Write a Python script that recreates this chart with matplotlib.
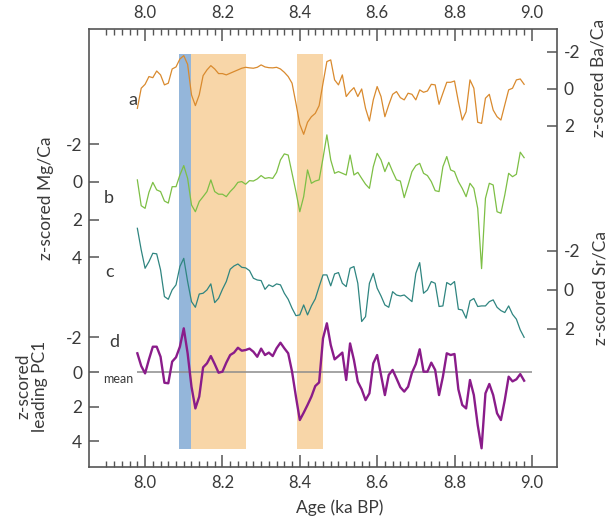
import matplotlib
matplotlib.use("Agg")
import matplotlib.pyplot as plt
import numpy as np
from matplotlib.ticker import FixedLocator, FormatStrFormatter

plt.rcParams['font.family'] = ['Lato', 'DejaVu Sans']
plt.rcParams['axes.unicode_minus'] = False

# ages (ka BP) shared by the four records
age = [7.98, 7.99, 8.00, 8.01, 8.02, 8.03, 8.04, 8.05, 8.06, 8.07,
       8.08, 8.09, 8.10, 8.11, 8.12, 8.13, 8.14, 8.15, 8.16, 8.17,
       8.18, 8.19, 8.20, 8.21, 8.22, 8.23, 8.24, 8.25, 8.26, 8.27,
       8.28, 8.29, 8.30, 8.31, 8.32, 8.33, 8.34, 8.35, 8.36, 8.37,
       8.38, 8.39, 8.40, 8.41, 8.42, 8.43, 8.44, 8.45, 8.46, 8.47,
       8.48, 8.49, 8.50, 8.51, 8.52, 8.53, 8.54, 8.55, 8.56, 8.57,
       8.58, 8.59, 8.60, 8.61, 8.62, 8.63, 8.64, 8.65, 8.66, 8.67,
       8.68, 8.69, 8.70, 8.71, 8.72, 8.73, 8.74, 8.75, 8.76, 8.77,
       8.78, 8.79, 8.80, 8.81, 8.82, 8.83, 8.84, 8.85, 8.86, 8.87,
       8.88, 8.89, 8.90, 8.91, 8.92, 8.93, 8.94, 8.95, 8.96, 8.97, 8.98]

# a: z-scored Ba/Ca
ba_ca = [1.05, -0.04, -0.25, -0.67, -0.61, -0.97, -0.76, -0.22, -0.31, -1.08,
         -1.19, -1.62, -1.80, -1.33, 0.32, 0.90, 0.32, -0.72, -1.03, -1.26,
         -1.08, -0.83, -0.83, -0.76, -0.85, -0.94, -1.03, -1.12, -1.17, -1.14,
         -1.12, -1.17, -1.30, -1.19, -1.15, -1.14, -1.17, -1.08, -0.90, -0.67,
         -0.31, 0.77, 1.91, 2.45, 1.80, 1.50, 1.32, 0.90, -0.31, -1.48,
         -1.57, -0.49, -0.22, -0.76, 0.41, 0.14, -0.07, 0.41, 0.00, 1.05,
         1.73, 0.59, -0.13, 0.41, 1.50, 0.86, 0.29, 0.14, 0.47, 0.59,
         0.23, 0.29, 0.59, 0.05, 0.18, 0.11, -0.25, -0.22, 0.83, 0.23,
         -0.36, -0.36, -0.43, 0.68, 1.68, 1.23, -0.49, -0.04, 1.80, 1.86,
         0.50, 0.29, 1.14, 1.50, 1.68, 0.86, 0.05, -0.04, -0.49, -0.54, -0.25]

# b: z-scored Mg/Ca
mg_ca = [-0.11, 1.26, 1.40, 0.55, 0.02, 0.42, 0.51, 1.01, 1.12, 0.25,
         0.25, -0.37, -0.87, -0.19, 1.22, 1.58, 1.04, 0.78, 0.51, -0.11,
         0.51, 0.65, 0.65, 0.78, 0.51, 0.30, 0.02, -0.02, 0.12, -0.07,
         -0.05, -0.16, -0.34, -0.19, -0.23, -0.19, -0.51, -1.17, -1.49, -1.43,
         -0.46, 0.51, 1.58, 0.78, -0.64, 0.07, -0.05, -0.11, -1.26, -2.50,
         -1.17, -0.46, -0.55, -0.46, -0.37, -1.43, -0.37, -0.51, -0.19, 0.12,
         0.34, -0.81, -1.52, -1.17, -0.55, -1.04, -0.55, -0.11, -0.05, 0.83,
         0.16, -0.55, -0.87, -0.99, -0.46, -0.34, -0.02, 0.46, 0.51, -0.81,
         -1.35, -0.64, -0.55, -0.02, 0.34, 0.78, 0.07, 0.34, 1.40, 4.60,
         0.87, 0.07, 0.16, 1.58, 1.66, 0.69, -0.46, -0.28, -0.41, -1.58, -1.29]

# c: z-scored Sr/Ca
sr_ca = [-3.16, -2.05, -1.11, -1.45, -1.88, -1.85, -1.03, 0.34, 0.48, 0.00,
         -0.26, -1.20, -1.62, -0.43, 0.60, 0.89, 0.21, 0.17, 0.00, -0.31,
         0.65, 0.43, -0.03, -0.43, -1.06, -1.23, -1.33, -1.16, -1.13, -0.99,
         -0.60, -0.51, -0.48, -0.03, -0.26, -0.17, -0.31, -0.26, 0.17, 0.48,
         0.94, 1.32, 1.28, 0.77, 1.28, 0.82, 0.46, -0.17, -0.77, -0.77,
         -0.21, -0.82, -0.89, -0.34, -0.17, -1.11, -1.20, -0.34, 1.62, 1.37,
         -0.34, -0.85, -0.09, 0.31, 0.77, 0.89, 0.09, 0.26, 0.31, 0.26,
         0.43, 0.60, -0.85, -1.40, 0.17, 0.00, -0.43, -0.34, 0.85, 0.82,
         -0.38, -0.26, -0.43, 0.99, 1.03, 1.45, 0.56, 0.44, 0.85, 0.82,
         0.82, 0.60, 0.51, 0.89, 1.06, 1.16, 0.82, 1.25, 1.50, 2.05, 2.43]

# d: z-scored leading PC1
pc1 = [-1.08, -0.35, 0.08, -0.73, -1.46, -1.46, -0.88, 0.62, 0.65, -0.60,
       -0.85, -1.46, -2.52, -1.08, 0.85, 2.10, 1.42, -0.27, -0.50, -0.92,
       -0.46, 0.04, -0.02, -0.54, -0.98, -1.12, -1.40, -1.23, -1.27, -1.35,
       -1.17, -0.88, -1.35, -0.98, -1.12, -0.92, -1.37, -1.69, -1.37, -1.08,
       -0.02, 1.42, 2.77, 2.35, 1.90, 1.42, 0.81, 0.60, -1.94, -2.81,
       -1.56, -0.73, -0.92, -1.12, 0.46, -1.65, -0.69, 0.56, 1.00, 1.62,
       1.23, -0.50, -0.98, 0.17, 1.33, 0.17, -0.12, 0.37, 0.88, 1.13,
       0.85, 0.04, -0.46, -1.31, -0.02, -0.02, -0.54, -0.12, 1.33, 0.27,
       -1.08, -0.98, -1.04, 1.00, 1.90, 2.10, 0.46, 1.33, 3.06, 4.40,
       1.23, 0.69, 1.33, 2.38, 2.77, 1.62, 0.27, 0.54, 0.42, 0.12, 0.50]

# shaded intervals (ka BP)
blue_band = (8.088, 8.119)
orange_bands = [(8.119, 8.261), (8.393, 8.460)]

ink = '#3a3a3a'
fig = plt.figure(figsize=(6.11, 5.18), dpi=100)
rect = [89 / 611, 1 - 467 / 518, 468 / 611, 438 / 518]
ax = fig.add_axes(rect)
ax.set_xlim(7.855, 9.065)
ax.set_ylim(0, 1)
ax.set_yticks([])
for sp in ax.spines.values():
    sp.set_color('#555555')
    sp.set_linewidth(1.2)

ax.axvspan(*blue_band, ymin=0.041, ymax=0.943, color='#94b6da', lw=0)
for lo, hi in orange_bands:
    ax.axvspan(lo, hi, ymin=0.041, ymax=0.943, color='#f8d6a8', lw=0)

ax.xaxis.set_major_locator(FixedLocator(np.round(np.arange(8.0, 9.01, 0.2), 2)))
ax.xaxis.set_minor_locator(FixedLocator(np.round(np.arange(7.90, 8.99, 0.02), 2)))
ax.xaxis.set_major_formatter(FormatStrFormatter('%.1f'))
ax.tick_params(axis='x', which='both', direction='in', top=True, bottom=True,
               labeltop=True, labelbottom=True, colors='#555555',
               labelcolor=ink, labelsize=12)
ax.tick_params(axis='x', which='major', length=8.5, width=1.1, pad=6)
ax.tick_params(axis='x', which='minor', length=4.3, width=1.0)
ax.set_xlabel('Age (ka BP)', fontsize=12.5, color=ink, labelpad=1)
ax.xaxis.set_label_coords(0.536, -0.075)


def series_axis(ylim, ticks, side):
    s = ax.twinx()
    s.set_ylim(*ylim)
    for sp in s.spines.values():
        sp.set_visible(False)
    s.set_yticks(ticks)
    s.yaxis.set_major_formatter(FormatStrFormatter('%d'))
    if side == 'left':
        s.yaxis.tick_left()
    else:
        s.yaxis.tick_right()
    s.tick_params(axis='y', direction='in', length=7, width=1.1,
                  colors='#555555', labelcolor=ink, labelsize=12.5, pad=5)
    return s


ax_a = series_axis((20.43, -3.24), [-2, 0, 2], 'right')
ax_b = series_axis((15.13, -8.12), [-2, 0, 2, 4], 'left')
ax_c = series_axis((9.08, -13.38), [-2, 0, 2], 'right')
ax_d = series_axis((5.48, -19.79), [-2, 0, 2, 4], 'left')

ax_a.plot(age, ba_ca, color='#d98a2e', lw=0.9)
ax_b.plot(age, mg_ca, color='#7dbf45', lw=0.9)
ax_c.plot(age, sr_ca, color='#2f8580', lw=0.9)
ax_d.hlines(0, age[0], 9.0, color='#8c8c8c', lw=1.1)
ax_d.plot(age, pc1, color='#8a1c8a', lw=1.7)

for letter, x, y in [('a', 0.094, 0.838), ('b', 0.043, 0.614),
                     ('c', 0.043, 0.445), ('d', 0.055, 0.285)]:
    ax.text(x, y, letter, transform=ax.transAxes, ha='center', va='center',
            fontsize=13, color=ink)
ax.text(0.062, 0.201, 'mean', transform=ax.transAxes, ha='center',
        va='center', fontsize=9, color=ink)

ax.text(-0.092, 0.614, 'z-scored Mg/Ca', transform=ax.transAxes, rotation=90,
        ha='center', va='center', fontsize=12.5, color=ink)
ax.text(-0.122, 0.185, 'z-scored\nleading PC1', transform=ax.transAxes,
        rotation=90, ha='center', va='center', fontsize=12.5, color=ink,
        linespacing=1.0)
ax.text(1.088, 0.888, 'z-scored Ba/Ca', transform=ax.transAxes, rotation=90,
        ha='center', va='center', fontsize=12.5, color=ink)
ax.text(1.092, 0.409, 'z-scored Sr/Ca', transform=ax.transAxes, rotation=90,
        ha='center', va='center', fontsize=12.5, color=ink)

fig.savefig('out.png', dpi=100)
